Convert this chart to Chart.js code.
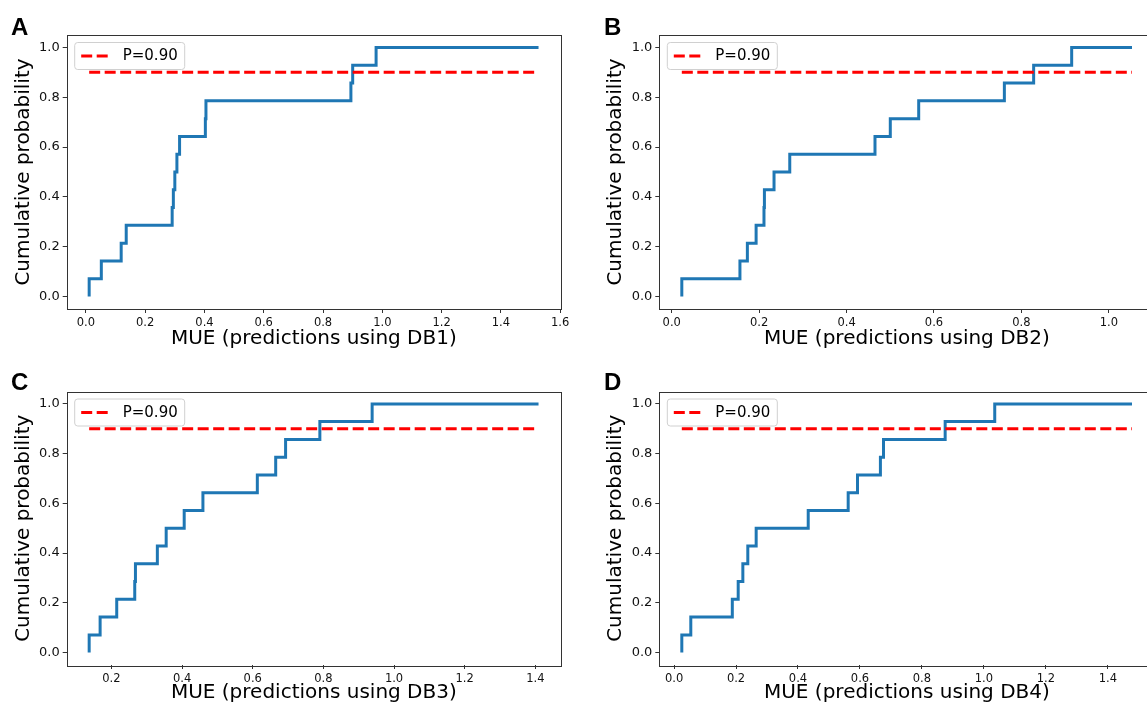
<!DOCTYPE html>
<html>
<head>
<meta charset="utf-8">
<script src="https://cdn.jsdelivr.net/npm/chart.js@4.4.1/dist/chart.umd.min.js"></script>
<style>
   html, body { margin: 0; padding: 0; background: #fff; width: 1147px; height: 707px; overflow: hidden; position: relative; }
   .panel { position: absolute; }
   .letter { position: absolute; font: bold 24px "Liberation Sans", Arial, sans-serif; line-height: 24px; color: #000; }
</style>
</head>
<body>
<script>
// ==========================================
// Data
// ==========================================

// cumulative probability levels, one per sorted MUE value
const cumProb = [0.000, 0.071, 0.143, 0.214, 0.286, 0.357, 0.429, 0.500, 0.571, 0.643, 0.714, 0.786, 0.857, 0.929, 1.000];

// sorted MUE values per database
const mueDB1 = [0.011, 0.052, 0.119, 0.136, 0.291, 0.295, 0.300, 0.307, 0.316, 0.403, 0.405, 0.894, 0.900, 0.979, 1.527];
const mueDB2 = [0.023, 0.156, 0.173, 0.193, 0.211, 0.212, 0.234, 0.270, 0.465, 0.500, 0.565, 0.761, 0.828, 0.915, 1.053];
const mueDB3 = [0.137, 0.168, 0.215, 0.266, 0.268, 0.330, 0.355, 0.406, 0.459, 0.613, 0.665, 0.693, 0.790, 0.938, 1.409];
const mueDB4 = [0.025, 0.054, 0.188, 0.207, 0.222, 0.238, 0.265, 0.433, 0.562, 0.592, 0.666, 0.676, 0.875, 1.035, 1.478];

const threshold = 0.90;
const thresholdLabel = "P=0.90";

const xTicksDB1 = [0.0, 0.2, 0.4, 0.6, 0.8, 1.0, 1.2, 1.4, 1.6];
const xTicksDB2 = [0.0, 0.2, 0.4, 0.6, 0.8, 1.0];
const xTicksDB3 = [0.2, 0.4, 0.6, 0.8, 1.0, 1.2, 1.4];
const xTicksDB4 = [0.0, 0.2, 0.4, 0.6, 0.8, 1.0, 1.2, 1.4];
const yTicks = [0.0, 0.2, 0.4, 0.6, 0.8, 1.0];

const panelLetters = ["A", "B", "C", "D"];
const xTitles = ["MUE (predictions using DB1)", "MUE (predictions using DB2)", "MUE (predictions using DB3)", "MUE (predictions using DB4)"];
const yTitle = "Cumulative probability";

const series = [mueDB1, mueDB2, mueDB3, mueDB4];
const xTickSets = [xTicksDB1, xTicksDB2, xTicksDB3, xTicksDB4];

// ==========================================
// Layout (page pixels): canvas box and plot area
// ==========================================

const layout = [
   { box: [0, 0, 575, 353],     area: [66.7, 35, 561, 309],      letter: [11, 15] },
   { box: [592, 0, 580, 353],   area: [659.3, 35, 1154.5, 309],  letter: [604, 15] },
   { box: [0, 355, 575, 352],   area: [66.7, 391.5, 561, 665],   letter: [11, 370] },
   { box: [592, 355, 580, 352], area: [659.3, 391.5, 1154.5, 665], letter: [604, 370] }
];

const FONT = "'DejaVu Sans', 'Liberation Sans', sans-serif";

// box around the plot area, like matplotlib spines
const frame = {
   id: "frame",
   afterDraw(chart) {
      const { ctx, chartArea: a } = chart;
      ctx.save();
      ctx.strokeStyle = "#333";
      ctx.lineWidth = 1;
      ctx.strokeRect(Math.round(a.left) + 0.5, Math.round(a.top) + 0.5, Math.round(a.right - a.left), Math.round(a.bottom - a.top));
      ctx.restore();
   }
};

// legend box in the upper left corner of the plot area
const legendBox = {
   id: "legendBox",
   afterDraw(chart) {
      const { ctx, chartArea: a } = chart;
      const ds = chart.data.datasets[0];
      const x = a.left + 7.5, y = a.top + 7, w = 110, h = 27;
      ctx.save();
      ctx.beginPath();
      ctx.roundRect(x + 0.5, y + 0.5, w, h, 3);
      ctx.fillStyle = "rgba(255,255,255,0.8)";
      ctx.fill();
      ctx.strokeStyle = "#d0d0d0";
      ctx.lineWidth = 1;
      ctx.stroke();
      // two dashes as the legend handle
      const dashLen = 2 * ds.borderDash[0] + ds.borderDash[1];
      ctx.beginPath();
      ctx.setLineDash(ds.borderDash);
      ctx.strokeStyle = ds.borderColor;
      ctx.lineWidth = ds.borderWidth;
      ctx.moveTo(x + 7, y + h / 2 + 0.5);
      ctx.lineTo(x + 7 + dashLen, y + h / 2 + 0.5);
      ctx.stroke();
      ctx.setLineDash([]);
      ctx.fillStyle = "#000";
      ctx.font = "15px " + FONT;
      ctx.textBaseline = "middle";
      ctx.fillText(ds.label, x + 48.5, y + h / 2 + 1);
      ctx.restore();
   }
};

function makePanel(i) {
   const mue = series[i];
   const lay = layout[i];
   const [bx, by, bw, bh] = lay.box;
   const [al, at, ar, ab] = lay.area;

   const wrap = document.createElement("div");
   wrap.className = "panel";
   wrap.style.left = bx + "px";
   wrap.style.top = by + "px";
   wrap.style.width = bw + "px";
   wrap.style.height = bh + "px";
   const cv = document.createElement("canvas");
   cv.width = bw;
   cv.height = bh;
   cv.style.width = bw + "px";
   cv.style.height = bh + "px";
   wrap.appendChild(cv);
   document.body.appendChild(wrap);

   const letter = document.createElement("div");
   letter.className = "letter";
   letter.textContent = panelLetters[i];
   letter.style.left = lay.letter[0] + "px";
   letter.style.top = lay.letter[1] + "px";
   document.body.appendChild(letter);

   // matplotlib style 5% margins around the data
   const lo = Math.min(...mue), hi = Math.max(...mue);
   const pad = 0.05 * (hi - lo);

   new Chart(cv, {
      type: "line",
      data: {
         datasets: [
            {
               label: thresholdLabel,
               data: [{ x: lo, y: threshold }, { x: hi, y: threshold }],
               borderColor: "#ff0000",
               borderWidth: 3,
               borderDash: [11, 4.5],
               borderCapStyle: "butt",
               pointRadius: 0
            },
            {
               label: "ECDF",
               data: mue.map((v, k) => ({ x: v, y: cumProb[k] })),
               stepped: "after",
               borderColor: "#1f77b4",
               borderWidth: 3,
               borderJoinStyle: "miter",
               pointRadius: 0
            }
         ]
      },
      options: {
         responsive: false,
         animation: false,
         devicePixelRatio: 1,
         layout: { padding: { top: at - by, right: bx + bw - ar, left: 0, bottom: 0 } },
         plugins: { legend: { display: false }, tooltip: { enabled: false } },
         scales: {
            x: {
               type: "linear",
               min: lo - pad,
               max: hi + pad,
               afterBuildTicks: ax => { ax.ticks = xTickSets[i].map(v => ({ value: v })); },
               afterFit: ax => { ax.height = by + bh - ab; },
               ticks: { callback: v => Number(v).toFixed(1), font: { size: 11.5, family: FONT }, color: "#111", padding: 3, maxRotation: 0, autoSkip: false },
               grid: { drawOnChartArea: false, tickLength: 4, color: "#333" },
               border: { display: false },
               title: { display: true, text: xTitles[i], font: { size: 20, family: FONT }, color: "#000", padding: { top: 0, bottom: 2 } }
            },
            y: {
               type: "linear",
               min: -0.05,
               max: 1.05,
               afterBuildTicks: ax => { ax.ticks = yTicks.map(v => ({ value: v })); },
               afterFit: ax => { ax.width = al - bx; },
               ticks: { callback: v => Number(v).toFixed(1), font: { size: 13, family: FONT }, color: "#111", padding: 3 },
               grid: { drawOnChartArea: false, tickLength: 4, color: "#333" },
               border: { display: false },
               title: { display: true, text: yTitle, font: { size: 20, family: FONT }, color: "#000", padding: { top: 12, bottom: 0 } }
            }
         }
      },
      plugins: [frame, legendBox]
   });
}

for (let i = 0; i < 4; i++) makePanel(i);
</script>
</body>
</html>
